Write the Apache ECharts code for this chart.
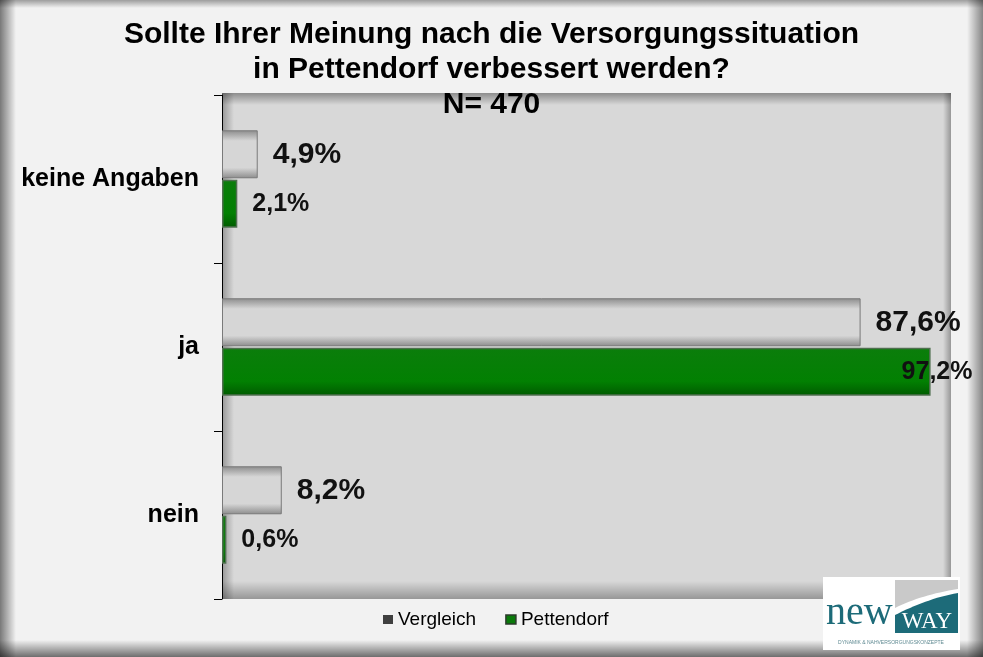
<!DOCTYPE html>
<html>
<head>
<meta charset="utf-8">
<script src="https://cdn.jsdelivr.net/npm/echarts@6/dist/echarts.min.js"></script>
<style>
html,body{margin:0;padding:0;background:#f2f2f2;}
#chart{width:983px;height:657px;}
</style>
</head>
<body>
<div id="chart"></div>
<script>
// ---- data ----
const categories = ['keine Angaben', 'ja', 'nein'];
const vergleichValues = [4.9, 87.6, 8.2];
const pettendorfValues = [2.1, 97.2, 0.6];
const titleLines = ['Sollte Ihrer Meinung nach die Versorgungssituation', 'in Pettendorf verbessert werden?', 'N= 470'];
const seriesNames = ['Vergleich', 'Pettendorf'];

const FONT = '"Liberation Sans", Arial, sans-serif';
const fmt = v => v.toFixed(1).replace('.', ',') + '%';

// plot area geometry
const PL = 222, PT = 95, PW = 729, PH = 504;

const chart = echarts.init(document.getElementById('chart'));

function strip(x, y, w, h, dir, alpha, z) {
  let g;
  if (dir === 'l') g = [0, 0, 1, 0];
  if (dir === 'r') g = [1, 0, 0, 0];
  if (dir === 't') g = [0, 0, 0, 1];
  if (dir === 'b') g = [0, 1, 0, 0];
  return {
    type: 'rect', silent: true, z: z,
    shape: { x, y, width: w, height: h },
    style: {
      fill: new echarts.graphic.LinearGradient(g[0], g[1], g[2], g[3], [
        { offset: 0, color: 'rgba(0,0,0,' + alpha + ')' },
        { offset: 1, color: 'rgba(0,0,0,0)' }
      ])
    }
  };
}

// cubic bezier sampling for logo shapes
function bez(p0, p1, p2, p3, n) {
  const pts = [];
  for (let i = 0; i <= n; i++) {
    const t = i / n, u = 1 - t;
    pts.push([
      u*u*u*p0[0] + 3*u*u*t*p1[0] + 3*u*t*t*p2[0] + t*t*t*p3[0],
      u*u*u*p0[1] + 3*u*u*t*p1[1] + 3*u*t*t*p2[1] + t*t*t*p3[1]
    ]);
  }
  return pts;
}
const grayPts = [[72, 3], [135, 3]].concat(bez([135, 12], [110, 16], [90, 22], [72, 31], 16));
const tealPts = bez([72, 38], [92, 28], [112, 20], [135, 16], 16).concat([[135, 56], [72, 56]]);

const vergleichSeries = vergleichValues.map(v => ({ value: v }));
const pettendorfSeries = pettendorfValues.map(v => {
  const item = { value: v };
  if (v > 95) item.label = { offset: [-44, 0] };
  return item;
});

const option = {
  backgroundColor: '#f2f2f2',
  animation: false,
  title: {
    text: titleLines.join('\n'),
    left: 'center',
    top: 12,
    textStyle: { fontFamily: FONT, fontSize: 30, fontWeight: 'bold', color: '#000', lineHeight: 35 }
  },
  legend: {
    data: [
      { name: 'Vergleich', itemStyle: { color: '#404040', borderWidth: 0 } },
      { name: 'Pettendorf', itemStyle: { color: '#0a7a0a', borderColor: '#2b3b2b', borderWidth: 1.5 } }
    ],
    left: 378, top: 605,
    icon: 'rect', itemWidth: 10, itemHeight: 9, itemGap: 29,
    textStyle: { fontFamily: FONT, fontSize: 19, color: '#000' }
  },
  grid: { left: PL, top: PT, width: PW, height: PH, show: false },
  xAxis: {
    type: 'value', min: 0, max: 100, show: false
  },
  yAxis: {
    type: 'category', data: categories, inverse: true,
    axisLine: { show: true, lineStyle: { color: '#000', width: 1 } },
    axisTick: { show: true, length: 8, lineStyle: { color: '#000' } },
    axisLabel: { fontFamily: FONT, fontSize: 25, fontWeight: 'bold', color: '#000', margin: 23 },
    splitLine: { show: false }
  },
  series: [
    {
      name: 'Vergleich', type: 'bar', data: vergleichSeries, z: 3,
      barGap: '3%', barCategoryGap: '42%',
      itemStyle: {
        color: new echarts.graphic.LinearGradient(0, 0, 0, 1, [
          { offset: 0, color: '#8c8c8c' },
          { offset: 0.22, color: '#d6d6d6' },
          { offset: 0.78, color: '#d6d6d6' },
          { offset: 1, color: '#8c8c8c' }
        ]),
        borderColor: '#7a7a7a', borderWidth: 1
      },
      label: {
        show: true, position: 'right', distance: 15, formatter: p => fmt(p.value),
        fontFamily: FONT, fontSize: 30, fontWeight: 'bold', color: '#111'
      }
    },
    {
      name: 'Pettendorf', type: 'bar', data: pettendorfSeries, z: 3,
      barGap: '3%', barCategoryGap: '42%',
      itemStyle: {
        color: new echarts.graphic.LinearGradient(0, 0, 0, 1, [
          { offset: 0, color: '#0b7d0b' },
          { offset: 0.7, color: '#028002' },
          { offset: 1, color: '#005a00' }
        ]),
        borderColor: '#4f6f4f', borderWidth: 1.5
      },
      label: {
        show: true, position: 'right', distance: 15, formatter: p => fmt(p.value),
        fontFamily: FONT, fontSize: 25, fontWeight: 'bold', color: '#111'
      }
    }
  ],
  graphic: [
    strip(0, 0, 16, 657, 'l', 0.5, 0),
    strip(967, 0, 16, 657, 'r', 0.45, 0),
    strip(0, 0, 983, 8, 't', 0.35, 0),
    strip(0, 640, 983, 17, 'b', 0.55, 0),
    { type: 'rect', silent: true, z: 0, shape: { x: PL, y: 93, width: PW, height: PT + PH - 93 }, style: { fill: '#d8d8d8' } },
    strip(PL, 93, PW, 12, 't', 0.35, 1),
    strip(PL, 93, 12, PT + PH - 93, 'l', 0.3, 1),
    strip(PL + PW - 8, 93, 8, PT + PH - 93, 'r', 0.3, 1),
    strip(PL, PT + PH - 18, PW, 18, 'b', 0.3, 1),
    {
      type: 'group', z: 10, x: 823, y: 577,
      children: [
        { type: 'rect', z: 10, shape: { x: 0, y: 0, width: 137, height: 73 }, style: { fill: '#ffffff' } },
        { type: 'polygon', z: 11, shape: { points: grayPts }, style: { fill: '#c9c9c9' } },
        { type: 'polygon', z: 11, shape: { points: tealPts }, style: { fill: '#1d6b79' } },
        { type: 'text', z: 12, x: 3, y: 56, style: { text: 'new', font: '40px "Liberation Serif", "DejaVu Serif", serif', fill: '#1d6b79', textVerticalAlign: 'bottom' } },
        { type: 'text', z: 12, x: 104, y: 45, style: { text: 'WAY', font: '23px "Liberation Serif", "DejaVu Serif", serif', fill: '#ffffff', textAlign: 'center', textVerticalAlign: 'middle' } },
        { type: 'text', z: 12, x: 68, y: 66, style: { text: 'DYNAMIK & NAHVERSORGUNGSKONZEPTE', font: '5px "Liberation Sans", sans-serif', fill: '#5f8a92', textAlign: 'center', textVerticalAlign: 'middle' } }
      ]
    }
  ]
};

chart.setOption(option);
</script>
</body>
</html>
